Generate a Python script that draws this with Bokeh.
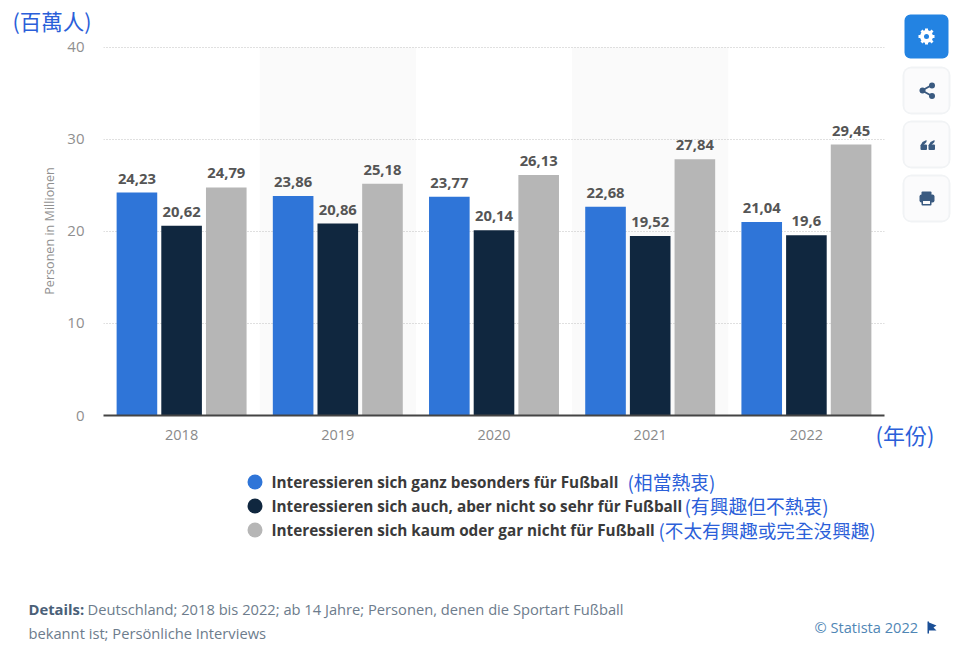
from bokeh.plotting import figure
from bokeh.models import FactorRange, Range1d, ColumnDataSource, BoxAnnotation, PolyAnnotation
from bokeh.transform import dodge
from bokeh.core.properties import value
from bokeh.embed import file_html
from bokeh.resources import INLINE

years = ["2018", "2019", "2020", "2021", "2022"]
very = [24.23, 23.86, 23.77, 22.68, 21.04]
some = [20.62, 20.86, 20.14, 19.52, 19.6]
none_ = [24.79, 25.18, 26.13, 27.84, 29.45]
series_names = ["Interessieren sich ganz besonders für Fußball",
                "Interessieren sich auch, aber nicht so sehr für Fußball",
                "Interessieren sich kaum oder gar nicht für Fußball"]
series_zh = ["(相當熱衷)", "(有興趣但不熱衷)", "(不太有興趣或完全沒興趣)"]
colors = ["#2f75d8", "#10273f", "#b6b6b6"]
y_ticks = [0, 10, 20, 30, 40]

W, H = 952, 658
p = figure(width=W, height=H, output_backend="svg", toolbar_location=None,
           x_range=FactorRange(factors=years, range_padding=0), y_range=Range1d(0, 40.1),
           min_border_left=103, min_border_right=68, min_border_top=46, min_border_bottom=243)
p.outline_line_color = None
p.background_fill_color = None
p.xgrid.visible = False
p.ygrid.grid_line_color = "#c0c0c0"
p.ygrid.grid_line_dash = "1 2"
p.ygrid.grid_line_width = 1
p.ygrid.level = "underlay"
p.yaxis.ticker = y_ticks
p.yaxis.axis_line_color = None
p.yaxis.major_tick_line_color = None
p.yaxis.minor_tick_line_color = None
p.yaxis.major_label_text_font = "Open Sans"
p.yaxis.major_label_text_font_size = "15px"
p.yaxis.major_label_text_color = "#8f8f8f"
p.yaxis.major_label_standoff = 13
p.yaxis.axis_label = "Personen in Millionen"
p.yaxis.axis_label_text_font = "Open Sans"
p.yaxis.axis_label_text_font_style = "normal"
p.yaxis.axis_label_text_font_size = "12.6px"
p.yaxis.axis_label_text_color = "#8f8f8f"
p.yaxis.axis_label_standoff = 6
p.xaxis.axis_line_color = "#444444"
p.xaxis.axis_line_width = 2
p.xaxis.major_tick_line_color = None
p.xaxis.minor_tick_line_color = None
p.xaxis.major_label_text_font = "Open Sans"
p.xaxis.major_label_text_font_size = "14.5px"
p.xaxis.major_label_text_color = "#8a8a8a"
p.xaxis.major_label_standoff = 8

band_src = ColumnDataSource(dict(x=years[1::2], top=[y_ticks[-1]] * len(years[1::2])))
p.vbar(x="x", top="top", bottom=0, width=1.0, source=band_src, fill_color="#fafafa", line_color=None, level="underlay")

src = ColumnDataSource(dict(x=years, a=very, b=some, c=none_,
                            la=[str(v).replace(".", ",") for v in very],
                            lb=[str(v).replace(".", ",") for v in some],
                            lc=[str(v).replace(".", ",") for v in none_]))
bw, step = 0.26, 0.286
for i, (col, lab_col) in enumerate((("a", "la"), ("b", "lb"), ("c", "lc"))):
    off = (i - 1) * step
    p.vbar(x=dodge("x", off, range=p.x_range), top=col, bottom=0, width=bw, source=src,
           fill_color=colors[i], line_color=None)
    p.text(x=dodge("x", off, range=p.x_range), y=col, text=lab_col, source=src, text_align="center",
           text_baseline="bottom", y_offset=-9, text_font=value("Open Sans"), text_font_style="bold",
           text_font_size="14.8px", text_color="#555555")

# transparent page-sized layer for everything that lies outside the plot frame
ov = figure(width=W, height=H, output_backend="svg", toolbar_location=None,
            x_range=Range1d(0, W), y_range=Range1d(H, 0), x_axis_type=None, y_axis_type=None,
            min_border=0, min_border_left=0, min_border_right=0, min_border_top=0, min_border_bottom=0)
ov.outline_line_color = None
ov.background_fill_color = None
ov.border_fill_color = None
ov.grid.visible = False
ov.styles = {"position": "absolute", "left": "0px", "top": "0px"}


def lab(x, y, text, color, size, font="Open Sans", style="normal"):
    ov.text(x=[x], y=[y], text=[text], text_color=color, text_font=value(font), text_font_size=f"{size}px",
            text_font_style=style, text_align="left", text_baseline="middle")


def box(l, t, w, h, color, radius=0):
    ov.add_layout(BoxAnnotation(left=l, right=l + w, top=t, bottom=t + h, fill_color=color, fill_alpha=1,
                                line_color=None, border_radius=int(radius + 0.5)))


def poly(xs, ys, color):
    ov.add_layout(PolyAnnotation(xs=xs, ys=ys, fill_color=color, fill_alpha=1, line_color=None))


# legend
for i, name in enumerate(series_names):
    ov.scatter(x=[254.5], y=[481.5 + 24 * i], marker="circle", size=15, fill_color=colors[i], line_color=None)
    lab(271, 481 + 24 * i, name, "#3a3a3a", 15.3, style="bold")

ZH = "Noto Sans CJK TC"
BLUE = "#2b5fd9"
lab(12, 19.5, "(百萬人)", BLUE, 21.5, ZH)
lab(875, 433, "(年份)", BLUE, 22, ZH)
lab(627, 481, series_zh[0], BLUE, 18.8, ZH)
lab(684, 505, series_zh[1], BLUE, 18.8, ZH)
lab(658, 529, series_zh[2], BLUE, 18.6, ZH)

lab(28, 608.5, "Details:", "#4a6078", 14.8, style="bold")
lab(87, 608.5, "Deutschland; 2018 bis 2022; ab 14 Jahre; Personen, denen die Sportart Fußball", "#6d7c8c", 14.7)
lab(28, 632.5, "bekannt ist; Persönliche Interviews", "#6d7c8c", 14.7)
lab(814, 626, "© Statista 2022", "#4f86b5", 14.6)
poly([927, 928.5, 928.5, 936, 933, 936, 928.5, 928.5, 927], [621, 621, 622, 625, 627, 630, 630, 633, 633], "#1a4f96")

# side buttons
ICON = "#3a5a80"
box(902, 66, 48, 48, "#f1f3f5", 9)
box(902, 120, 48, 48, "#f1f3f5", 9)
box(902, 174, 48, 48, "#f1f3f5", 9)
box(904, 14, 44, 44, "#2383e2", 6)
box(904, 68, 44, 44, "#fbfbfc", 6)
box(904, 122, 44, 44, "#fbfbfc", 6)
box(904, 176, 44, 44, "#fbfbfc", 6)
# gear
box(919.5, 29.5, 13, 13, "#ffffff", 6.5)
box(924.5, 28, 3, 16, "#ffffff")
box(918, 34.5, 16, 3, "#ffffff")
poly([920, 922, 933, 931], [31, 29, 41, 43], "#ffffff")
poly([931, 933, 922, 920], [29, 31, 43, 41], "#ffffff")
box(923.5, 33.5, 5, 5, "#2383e2", 2.5)
# share
poly([921, 930.5, 931.5, 922], [89.2, 84, 85.5, 90.8], ICON)
poly([921, 930.5, 931.5, 922], [90.8, 96, 94.5, 89.2], ICON)
box(919, 87, 6, 6, ICON, 3)
box(928.5, 82, 6, 6, ICON, 3)
box(928.5, 92.5, 6, 6, ICON, 3)
# quote
for qx in (920, 928):
    box(qx, 144, 6.5, 5.5, ICON, 1)
    poly([qx, qx + 2, qx + 6, qx + 6, qx + 2.5], [145, 141.5, 139.5, 141.5, 145], ICON)
# printer
box(921, 191, 10, 4, ICON, 0.5)
box(919, 194, 15, 8, ICON, 1.5)
box(921, 199, 10, 6, ICON, 0.5)
box(922.5, 200.5, 7, 3, "#fbfbfc")

open("out.html", "w").write(file_html([p, ov], INLINE))
